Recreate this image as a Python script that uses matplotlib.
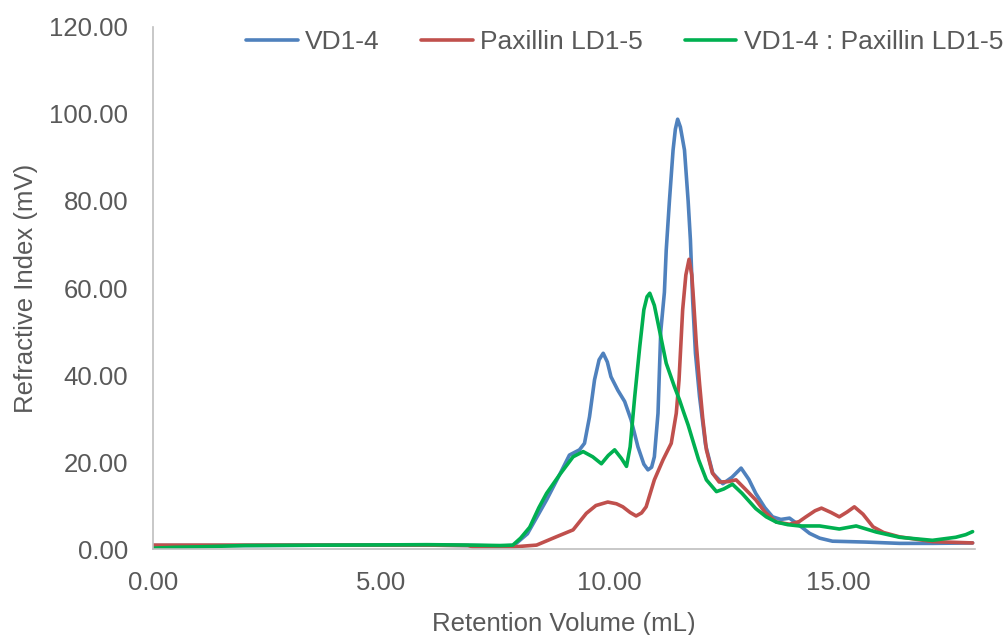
import matplotlib
matplotlib.use("Agg")
import matplotlib.pyplot as plt

# ---- data ----
vd_x = [0, 2, 4, 6, 7, 7.6, 7.9, 8.2, 8.62, 8.9, 9.12, 9.34, 9.45, 9.56, 9.67, 9.77, 9.86, 9.95,
        10.03, 10.18, 10.33, 10.47, 10.62, 10.75, 10.84, 10.92, 10.98, 11.06, 11.12, 11.2, 11.24,
        11.31, 11.39, 11.44, 11.49, 11.55, 11.64, 11.72, 11.77, 11.82, 11.88, 11.97, 12.1, 12.26,
        12.48, 12.68, 12.88, 13.05, 13.2, 13.4, 13.57, 13.75, 13.94, 14.15, 14.38, 14.6, 14.88,
        15.6, 16.35, 17.07, 17.95]
vd_y = [0.8, 0.8, 0.9, 0.9, 0.8, 0.7, 0.8, 3.5, 11.3, 17, 21.6, 22.8, 24.3, 30.4, 38.9, 43.5, 45, 43,
        39.6, 36.5, 33.9, 29.7, 23.5, 19.5, 18.2, 18.8, 21.2, 31.2, 50, 59, 68.7,
        80, 91.7, 96.5, 98.8, 97, 91.7, 80, 71, 57, 45, 35, 24, 17.4,
        15, 16.5, 18.6, 16, 12.8, 9.5, 7.4, 6.8, 7.1, 5.5, 3.6, 2.5, 1.8,
        1.6, 1.3, 1.3, 1.4]

pax_x = [0, 2, 4, 6, 6.9, 7.0, 7.9, 8.4, 8.83, 9.2, 9.49, 9.7, 9.96, 10.15, 10.29, 10.45, 10.58,
         10.7, 10.8, 10.98, 11.17, 11.35, 11.46, 11.52, 11.6, 11.67, 11.74, 11.8, 11.84, 11.9,
         11.97, 12.04, 12.12, 12.25, 12.4, 12.6, 12.77, 12.95, 13.2, 13.4, 13.65, 13.94, 14.15,
         14.3, 14.5, 14.64, 14.85, 15.03, 15.2, 15.36, 15.55, 15.77, 16.0, 16.35, 17.07, 17.95]
pax_y = [0.9, 0.9, 0.9, 0.9, 0.8, 0.5, 0.5, 0.9, 2.8, 4.4, 8.2, 10.0, 10.8, 10.4, 9.7, 8.4, 7.6,
         8.3, 9.7, 15.9, 20.5, 24.3, 31.2, 38.8, 55, 63, 66.6, 63, 57, 47,
         38, 30, 22.8, 17.5, 15.4, 15.5, 15.9, 14, 11.3, 8.5, 6.2, 5.7, 6.3,
         7.4, 8.8, 9.4, 8.4, 7.4, 8.5, 9.7, 8, 5.1, 3.8, 2.8, 1.7, 1.4]

mix_x = [0, 0.5, 1, 2, 4, 6, 7, 7.6, 7.88, 8.05, 8.25, 8.45, 8.62, 8.9, 9.2, 9.42, 9.63,
         9.82, 9.97, 10.11, 10.26, 10.37, 10.45, 10.55, 10.66, 10.75, 10.82, 10.88, 10.98,
         11.09, 11.24, 11.42, 11.53, 11.62, 11.72, 11.82, 11.95, 12.12, 12.34, 12.5, 12.69,
         12.9, 13.2, 13.43, 13.65, 13.9, 14.16, 14.6, 15.03, 15.4, 15.84, 16.35, 17.07, 17.58,
         17.8, 17.95]
mix_y = [0.2, 0.4, 0.5, 0.8, 0.9, 1.0, 0.9, 0.8, 0.9, 2.5, 5, 9.5, 12.8, 17, 21.2, 22.4, 21.2,
         19.6, 21.5, 22.8, 20.8, 19, 23.5, 35, 46.5, 55, 58, 58.8, 56,
         50.4, 42.7, 37.3, 34.3, 31.5, 28.5, 25, 20.5, 15.9, 13.2, 13.8, 14.9,
         12.8, 9.3, 7.4, 6.2, 5.6, 5.3, 5.3, 4.6, 5.3, 3.9, 2.7, 2.0, 2.7,
         3.3, 4.0]

labels = ["VD1-4", "Paxillin LD1-5", "VD1-4 : Paxillin LD1-5"]
colors = ["#4f81bd", "#c0504d", "#00b050"]
x_ticks = [0, 5, 10, 15]
y_ticks = [0, 20, 40, 60, 80, 100, 120]

plt.rcParams['font.family'] = ['Liberation Sans', 'DejaVu Sans']
fs = 18.5
txt = "#595959"

fig = plt.figure(figsize=(10.04, 6.35), dpi=100)
ax = fig.add_axes([0.1524, 0.1354, 0.8186, 0.8221])

for xs, ys, lab, c in zip([vd_x, pax_x, mix_x], [vd_y, pax_y, mix_y], labels, colors):
    ax.plot(xs, ys, color=c, lw=2.6, label=lab, solid_capstyle='round', solid_joinstyle='round')

ax.set_xlim(0, 18)
ax.set_ylim(0, 120)
ax.set_xticks(x_ticks)
ax.set_xticklabels([f"{v:.2f}" for v in x_ticks])
ax.set_yticks(y_ticks)
ax.set_yticklabels([f"{v:.2f}" for v in y_ticks])
ax.tick_params(axis='both', length=0, labelsize=fs, labelcolor=txt)
ax.tick_params(axis='y', pad=18)
ax.tick_params(axis='x', pad=16)

for s in ['top', 'right']:
    ax.spines[s].set_visible(False)
for s in ['left', 'bottom']:
    ax.spines[s].set_color('#bfbfbf')
    ax.spines[s].set_linewidth(1.2)

ax.set_xlabel("Retention Volume (mL)", fontsize=fs, color=txt, labelpad=12)
ax.set_ylabel("Refractive Index (mV)", fontsize=fs, color=txt, labelpad=8)

fig.legend(loc='center right', bbox_to_anchor=(0.999, 0.934), ncol=3, frameon=False,
           fontsize=19, labelcolor=txt, handlelength=1.95, handletextpad=0.27,
           columnspacing=1.6, borderaxespad=0, borderpad=0)

fig.savefig("out.png", dpi=100)
